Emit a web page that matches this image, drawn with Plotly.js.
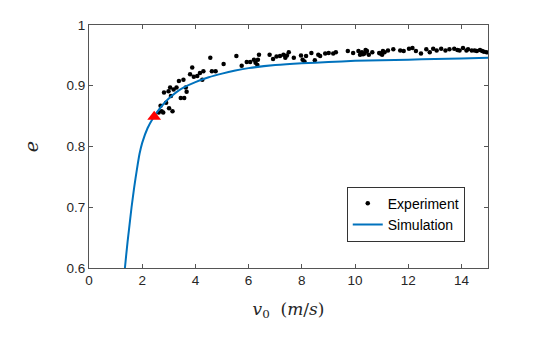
<!DOCTYPE html>
<html>
<head>
<meta charset="utf-8">
<script src="https://cdn.plot.ly/plotly-3.0.1.min.js"></script>
<style>
  html, body { margin: 0; padding: 0; background: #fff; }
  #chart { width: 545px; height: 338px; }
</style>
</head>
<body>
<div id="chart"></div>
<script>
// Experiment: impact velocity v0 (m/s) and restitution coefficient e
const expV = [2.62, 2.69, 2.73, 2.79, 2.82, 2.90, 2.99, 3.01, 3.05, 3.08, 3.14, 3.18, 3.29, 3.38, 3.45,
  3.55, 3.58, 3.64, 3.67, 3.80, 3.88, 3.94, 4.07, 4.17, 4.26, 4.30, 4.56, 4.62, 4.76, 5.06,
  5.54, 5.74, 5.93, 6.06, 6.20, 6.26, 6.33, 6.39, 6.35, 6.79, 6.92, 7.05, 7.18, 7.31, 7.38,
  7.44, 7.51, 7.70, 7.97, 8.03, 8.10, 8.16, 8.36, 8.49, 8.62, 8.69, 8.88, 9.01, 9.18, 9.28,
  9.73, 9.93, 10.13, 10.19, 10.26, 10.36, 10.45, 10.52, 10.65, 10.91, 11.02, 11.11, 11.24, 11.44, 11.70,
  11.83, 12.03, 12.16, 12.29, 12.48, 12.68, 12.81, 12.94, 13.07, 13.24, 13.40, 13.73, 13.93, 14.06, 14.19,
  14.39, 14.58, 14.78, 14.95, 10.30, 10.40, 10.95, 11.05, 13.55, 13.85, 14.25, 14.50, 14.70, 14.85];
const expE = [0.856, 0.867, 0.858, 0.856, 0.889, 0.872, 0.891, 0.863, 0.897, 0.883, 0.858, 0.894, 0.897, 0.908, 0.880,
  0.910, 0.880, 0.897, 0.890, 0.919, 0.930, 0.915, 0.916, 0.921, 0.910, 0.924, 0.946, 0.924, 0.924, 0.936,
  0.949, 0.933, 0.939, 0.939, 0.943, 0.938, 0.934, 0.951, 0.943, 0.951, 0.944, 0.948, 0.949, 0.951, 0.946,
  0.950, 0.955, 0.946, 0.950, 0.943, 0.940, 0.949, 0.954, 0.942, 0.951, 0.949, 0.953, 0.954, 0.953, 0.955,
  0.957, 0.954, 0.957, 0.951, 0.955, 0.953, 0.957, 0.951, 0.955, 0.954, 0.951, 0.955, 0.958, 0.960, 0.958,
  0.957, 0.961, 0.962, 0.957, 0.953, 0.960, 0.955, 0.961, 0.958, 0.961, 0.958, 0.961, 0.958, 0.962, 0.958,
  0.958, 0.957, 0.957, 0.955, 0.952, 0.959, 0.953, 0.957, 0.960, 0.959, 0.960, 0.958, 0.959, 0.956];

// Simulation curve
const simV = [1.35, 1.40, 1.45, 1.50, 1.60, 1.70, 1.80, 1.90, 2.00, 2.20, 2.40, 2.60, 2.80, 3.00, 3.30,
  3.60, 4.00, 4.50, 5.00, 5.50, 6.00, 7.00, 8.00, 9.00, 10.0, 11.0, 12.0, 13.0, 14.0, 15.0];
const simE = [0.600, 0.622, 0.643, 0.662, 0.700, 0.733, 0.762, 0.788, 0.806, 0.830, 0.846, 0.859, 0.870, 0.879, 0.890,
  0.898, 0.906, 0.914, 0.920, 0.925, 0.929, 0.934, 0.937, 0.939, 0.941, 0.942, 0.943, 0.944, 0.945, 0.946];

// Highlighted point (red triangle)
const markV = [2.45];
const markE = [0.849];

const xTicks = [0, 2, 4, 6, 8, 10, 12, 14];
const yTicks = [0.6, 0.7, 0.8, 0.9, 1];
const yTickText = ['0.6', '0.7', '0.8', '0.9', '1'];

const axisColor = '#555555';
const tickFont = { family: 'Liberation Sans, Arial, sans-serif', size: 13.5, color: '#262626' };

const traces = [
  {
    x: expV, y: expE, type: 'scatter', mode: 'markers', name: 'Experiment',
    marker: { color: '#000', size: 4.5 }
  },
  {
    x: simV, y: simE, type: 'scatter', mode: 'lines', name: 'Simulation',
    line: { color: '#0072BD', width: 2, shape: 'spline', smoothing: 0.6 }
  },
  {
    x: markV, y: markE, type: 'scatter', mode: 'markers', showlegend: false,
    marker: { color: '#FF0000', symbol: 'triangle-up', size: 12 }
  }
];

const layout = {
  width: 545, height: 338,
  paper_bgcolor: '#fff', plot_bgcolor: '#fff',
  margin: { l: 89, r: 57, t: 25, b: 70 },
  showlegend: true,
  legend: {
    x: 0.646, y: 0.335, xanchor: 'left', yanchor: 'top',
    bgcolor: '#fff', bordercolor: '#333', borderwidth: 1,
    font: { family: 'Liberation Sans, Arial, sans-serif', size: 14, color: '#000' },
    tracegroupgap: 0, itemwidth: 30
  },
  xaxis: {
    range: [0, 15], tickvals: xTicks, ticks: 'inside', ticklen: 4, tickcolor: axisColor,
    showline: true, linecolor: axisColor, linewidth: 1, mirror: 'ticks',
    showgrid: false, zeroline: false, tickfont: tickFont,
    title: { text: '<i>v</i><sub>0</sub>  (<i>m</i>/<i>s</i>)', standoff: 15,
      font: { family: 'DejaVu Serif, serif', size: 17, color: '#262626' } }
  },
  yaxis: {
    range: [0.6, 1], tickvals: yTicks, ticktext: yTickText, ticks: 'inside', ticklen: 4, tickcolor: axisColor,
    showline: true, linecolor: axisColor, linewidth: 1, mirror: 'ticks',
    showgrid: false, zeroline: false, tickfont: tickFont,
    title: { text: '<i>e</i>', standoff: 22,
      font: { family: 'DejaVu Serif, serif', size: 19, color: '#262626' } }
  }
};

Plotly.newPlot('chart', traces, layout, { displayModeBar: false, staticPlot: true });
</script>
</body>
</html>
